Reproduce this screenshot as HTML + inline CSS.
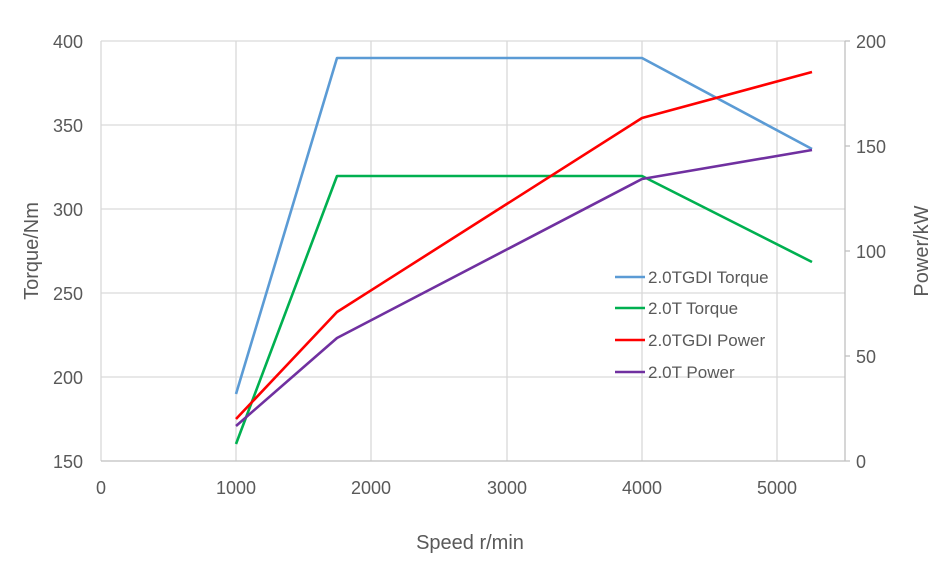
<!DOCTYPE html>
<html><head><meta charset="utf-8"><style>
html,body{margin:0;padding:0;background:#fff;}
svg text{font-family:"Liberation Sans",sans-serif;fill:#595959;}
</style></head><body>
<svg width="942" height="571" xmlns="http://www.w3.org/2000/svg">
<rect width="942" height="571" fill="#fff"/>
<g stroke="#d9d9d9" stroke-width="1.3" fill="none">
<line x1="101" y1="41" x2="845" y2="41"/>
<line x1="101" y1="125" x2="845" y2="125"/>
<line x1="101" y1="209" x2="845" y2="209"/>
<line x1="101" y1="293" x2="845" y2="293"/>
<line x1="101" y1="377" x2="845" y2="377"/>
<line x1="101" y1="41" x2="101" y2="461"/>
<line x1="236" y1="41" x2="236" y2="461"/>
<line x1="371" y1="41" x2="371" y2="461"/>
<line x1="507" y1="41" x2="507" y2="461"/>
<line x1="642" y1="41" x2="642" y2="461"/>
<line x1="777" y1="41" x2="777" y2="461"/>
</g>
<g stroke="#bfbfbf" stroke-width="1.3">
<line x1="101" y1="461" x2="850" y2="461"/>
<line x1="845" y1="41" x2="845" y2="461"/>
<line x1="845" y1="41" x2="850" y2="41"/>
<line x1="845" y1="146" x2="850" y2="146"/>
<line x1="845" y1="251" x2="850" y2="251"/>
<line x1="845" y1="356" x2="850" y2="356"/>
</g>
<g font-size="18" text-anchor="end">
<text x="83" y="48">400</text>
<text x="83" y="132">350</text>
<text x="83" y="216">300</text>
<text x="83" y="300">250</text>
<text x="83" y="384">200</text>
<text x="83" y="468">150</text>
</g>
<g font-size="18" text-anchor="start">
<text x="856" y="48">200</text>
<text x="856" y="153">150</text>
<text x="856" y="258">100</text>
<text x="856" y="363">50</text>
<text x="856" y="468">0</text>
</g>
<g font-size="18" text-anchor="middle">
<text x="101" y="494">0</text>
<text x="236" y="494">1000</text>
<text x="371" y="494">2000</text>
<text x="507" y="494">3000</text>
<text x="642" y="494">4000</text>
<text x="777" y="494">5000</text>
</g>
<text x="470" y="549" font-size="20" text-anchor="middle">Speed r/min</text>
<text transform="translate(38,251) rotate(-90)" font-size="20" text-anchor="middle">Torque/Nm</text>
<text transform="translate(928,251) rotate(-90)" font-size="20" text-anchor="middle">Power/kW</text>
<g fill="none" stroke-width="2.6" stroke-linejoin="round">
<polyline stroke="#5b9bd5" points="236,394 337,58 642,58 812,149"/>
<polyline stroke="#00b050" points="236,444 337,176 642,176 812,262"/>
<polyline stroke="#ff0000" points="236,419 337,312 642,118 812,72"/>
<polyline stroke="#7030a0" points="236,426 337,338 642,179 812,150"/>
</g>
<g stroke-width="2.6">
<line x1="615" y1="277" x2="645" y2="277" stroke="#5b9bd5"/>
<line x1="615" y1="308" x2="645" y2="308" stroke="#00b050"/>
<line x1="615" y1="340" x2="645" y2="340" stroke="#ff0000"/>
<line x1="615" y1="372" x2="645" y2="372" stroke="#7030a0"/>
</g>
<g font-size="17">
<text x="648" y="283">2.0TGDI Torque</text>
<text x="648" y="314">2.0T Torque</text>
<text x="648" y="346">2.0TGDI Power</text>
<text x="648" y="378">2.0T Power</text>
</g>
</svg>
</body></html>
